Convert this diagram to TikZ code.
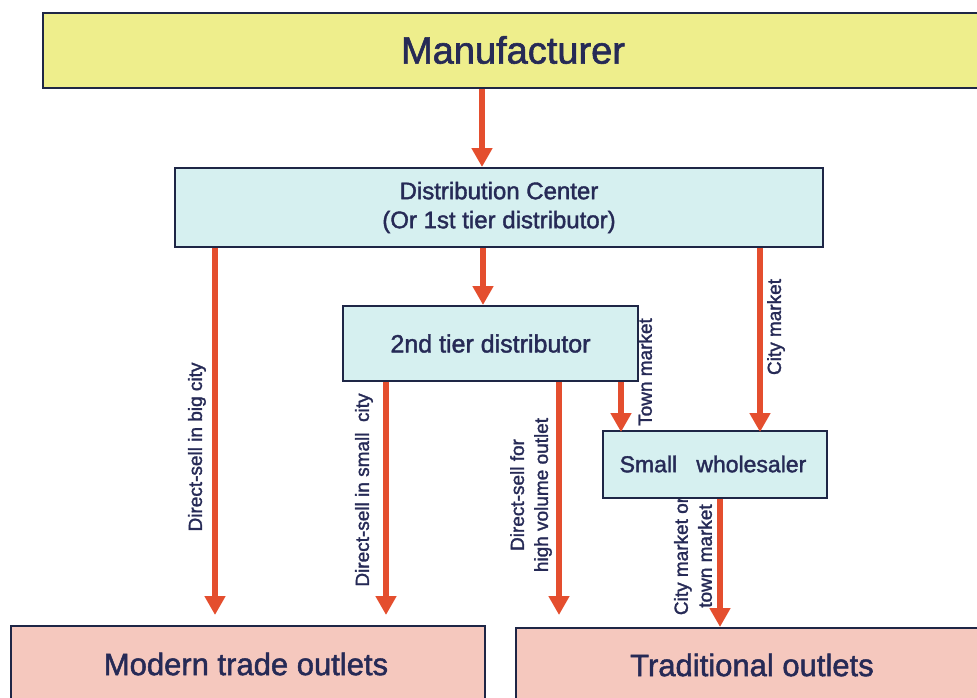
\documentclass[tikz,border=0pt]{standalone}
\usepackage{fontspec}
\setmainfont{Liberation Sans}[FakeBold=1.6]
\usetikzlibrary{arrows.meta}
\definecolor{mfgyellow}{RGB}{238,238,140}
\definecolor{tiercyan}{RGB}{214,240,240}
\definecolor{outletpink}{RGB}{245,200,190}
\definecolor{edgenavy}{RGB}{30,38,70}
\definecolor{inknavy}{RGB}{38,42,86}
\definecolor{flowred}{RGB}{228,78,46}
\begin{document}
\begin{tikzpicture}[x=1pt,y=-1pt,
  box/.style={draw=edgenavy, line width=2pt, inner sep=0pt, anchor=north west},
  ink/.style={text=inknavy, inner sep=0pt},
  flow/.style={draw=flowred, line width=6.5pt, -{Triangle[width=20pt,length=19pt]}},
  tag/.style={text=inknavy, rotate=90, font=\fontsize{19}{24}\selectfont, align=center, inner sep=0pt}
]
\useasboundingbox (0,0) rectangle (977,697);

% side labels of the flows
\node[tag] (lbig)   at (197,447) {Direct-sell in big city};
\node[tag] (lsmall) at (364,490) {Direct-sell in small\ \ city};
\node[tag] (lhigh)  at (531,495) {Direct-sell for\\high volume outlet};
\node[tag] (ltown)  at (645,372) {Town market};
\node[tag] (lcity)  at (776,327) {City market};
\node[tag] (lwhole) at (693,556) {City market or\\town market};

% boxes
\node[box, fill=mfgyellow, minimum width=960pt, minimum height=75pt] (mfg) at (42,12) {};
\node[ink, font=\fontsize{38}{40}\selectfont] (mfgtext) at (513,50) {Manufacturer};

\node[box, fill=tiercyan, minimum width=648pt, minimum height=79pt] (dc) at (174,167) {};
\node[ink, font=\fontsize{24}{29}\selectfont, align=center] (dctext) at (dc.center) {Distribution Center\\(Or 1st tier distributor)};

\node[box, fill=tiercyan, minimum width=295pt, minimum height=75pt] (tier2) at (342,305) {};
\node[ink, font=\fontsize{25}{28}\selectfont] (tier2text) at (tier2.center) {2nd tier distributor};

\node[box, fill=tiercyan, minimum width=224pt, minimum height=67pt] (sw) at (602,430) {};
\node[ink, font=\fontsize{23}{26}\selectfont] (swtext) at (713,464) {Small\ \ \ wholesaler};

\node[box, fill=outletpink, minimum width=474pt, minimum height=100pt] (modern) at (10,625) {};
\node[ink, font=\fontsize{31}{34}\selectfont] (moderntext) at (246,664) {Modern trade outlets};

\node[box, fill=outletpink, minimum width=480pt, minimum height=100pt] (trad) at (515,627) {};
\node[ink, font=\fontsize{31}{34}\selectfont] (tradtext) at (752,665) {Traditional outlets};

% arrow columns
\coordinate (c0) at (482,0);
\coordinate (c7) at (483,0);
\coordinate (c1) at (215,615);
\coordinate (c2) at (386,615);
\coordinate (c3) at (559,615);
\coordinate (c4) at (621,0);
\coordinate (c5) at (760,0);
\coordinate (c6) at (720,0);

% flows
\draw[flow] (mfg.south -| c0) -- (dc.north -| c0);
\draw[flow] (dc.south -| c7) -- (tier2.north -| c7);
\draw[flow] (dc.south -| c1) -- (c1);
\draw[flow] (dc.south -| c5) -- ([yshift=-2pt]sw.north -| c5);
\draw[flow] (tier2.south -| c2) -- (c2);
\draw[flow] (tier2.south -| c3) -- (c3);
\draw[flow] (tier2.south -| c4) -- ([yshift=-2pt]sw.north -| c4);
\draw[flow] (sw.south -| c6) -- (trad.north -| c6);
\end{tikzpicture}
\end{document}
